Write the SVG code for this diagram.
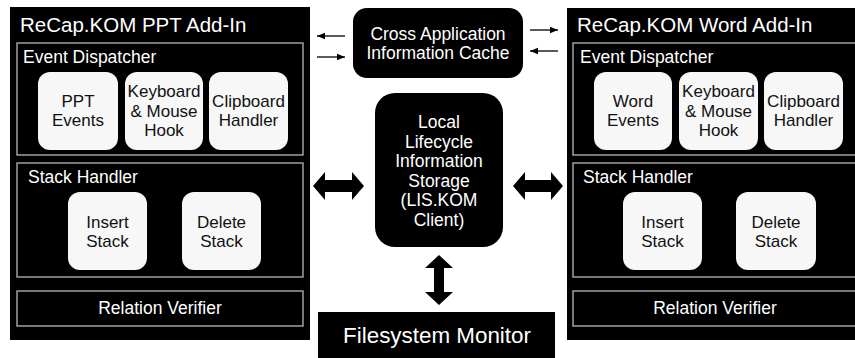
<svg xmlns="http://www.w3.org/2000/svg" width="855" height="358" viewBox="0 0 855 358">
<defs>
<style>
text{font-family:"Liberation Sans",Arial,sans-serif;}
.panel{fill:#000;}
.sub{fill:none;stroke:#b8b8b8;stroke-width:1.3;}
.wbox{fill:#f7f7f7;}
.dark{fill:#000;}
.t{fill:#fff;font-size:20.5px;}
.lbl{fill:#fff;font-size:17.5px;}
.bt{fill:#111;font-size:17px;text-anchor:middle;}
.ct{fill:#fff;font-size:17.5px;text-anchor:middle;}
.thin{stroke:#000;stroke-width:1.3;fill:none;marker-end:url(#ah);}
.thick{fill:#000;}
</style>
<marker id="ah" viewBox="0 0 10 10" refX="10" refY="5" markerWidth="8" markerHeight="8" markerUnits="userSpaceOnUse" orient="auto">
<path d="M0,1 L10,5 L0,9 Z" fill="#000"/>
</marker>
</defs>
<rect width="855" height="358" fill="#fff"/>

<g id="ppt-addin">
<rect class="panel" x="10" y="7" width="300" height="333"/>
<text class="t" x="20" y="32">ReCap.KOM PPT Add-In</text>
<g id="ppt-event-dispatcher">
<rect class="sub" x="17" y="43" width="286" height="112"/>
<text class="lbl" x="23" y="63">Event Dispatcher</text>
<g id="ppt-events"><rect class="wbox" x="38" y="72" width="80" height="78" rx="12"/>
<text class="bt" x="78" y="107">PPT</text><text class="bt" x="78" y="126">Events</text></g>
<g id="ppt-hook"><rect class="wbox" x="125" y="72" width="78" height="78" rx="12"/>
<text class="bt" x="164" y="97">Keyboard</text><text class="bt" x="164" y="117">&amp; Mouse</text><text class="bt" x="164" y="136">Hook</text></g>
<g id="ppt-clipboard"><rect class="wbox" x="209" y="72" width="79" height="78" rx="12"/>
<text class="bt" x="248.5" y="107">Clipboard</text><text class="bt" x="248.5" y="126">Handler</text></g>
</g>
<g id="ppt-stack-handler">
<rect class="sub" x="17" y="163" width="286" height="114"/>
<text class="lbl" x="28" y="183">Stack Handler</text>
<g id="ppt-insert"><rect class="wbox" x="68" y="192" width="79" height="78" rx="12"/>
<text class="bt" x="107.5" y="228">Insert</text><text class="bt" x="107.5" y="247">Stack</text></g>
<g id="ppt-delete"><rect class="wbox" x="182" y="192" width="79" height="78" rx="12"/>
<text class="bt" x="221.5" y="228">Delete</text><text class="bt" x="221.5" y="247">Stack</text></g>
</g>
<g id="ppt-relation-verifier">
<rect class="sub" x="17" y="291" width="286" height="35"/>
<text class="ct" x="160" y="314">Relation Verifier</text>
</g>
</g>

<g id="word-addin">
<rect class="panel" x="567" y="8" width="300" height="332"/>
<text class="t" x="577" y="32">ReCap.KOM Word Add-In</text>
<g id="word-event-dispatcher">
<rect class="sub" x="573" y="43" width="290" height="112"/>
<text class="lbl" x="580" y="63">Event Dispatcher</text>
<g id="word-events"><rect class="wbox" x="594" y="72" width="78" height="78" rx="12"/>
<text class="bt" x="633" y="107">Word</text><text class="bt" x="633" y="126">Events</text></g>
<g id="word-hook"><rect class="wbox" x="679" y="72" width="79" height="78" rx="12"/>
<text class="bt" x="718.5" y="97">Keyboard</text><text class="bt" x="718.5" y="117">&amp; Mouse</text><text class="bt" x="718.5" y="136">Hook</text></g>
<g id="word-clipboard"><rect class="wbox" x="764" y="72" width="79" height="78" rx="12"/>
<text class="bt" x="803.5" y="107">Clipboard</text><text class="bt" x="803.5" y="126">Handler</text></g>
</g>
<g id="word-stack-handler">
<rect class="sub" x="573" y="163" width="290" height="114"/>
<text class="lbl" x="583" y="183">Stack Handler</text>
<g id="word-insert"><rect class="wbox" x="623" y="192" width="79" height="78" rx="12"/>
<text class="bt" x="662.5" y="228">Insert</text><text class="bt" x="662.5" y="247">Stack</text></g>
<g id="word-delete"><rect class="wbox" x="736" y="192" width="80" height="78" rx="12"/>
<text class="bt" x="776" y="228">Delete</text><text class="bt" x="776" y="247">Stack</text></g>
</g>
<g id="word-relation-verifier">
<rect class="sub" x="573" y="291" width="290" height="35"/>
<text class="ct" x="715" y="314">Relation Verifier</text>
</g>
</g>

<g id="cache">
<rect class="dark" x="353" y="8" width="170" height="70" rx="14"/>
<text class="ct" x="438" y="40">Cross Application</text>
<text class="ct" x="438" y="59">Information Cache</text>
</g>

<g id="lis">
<rect class="dark" x="375" y="93" width="128" height="154" rx="20"/>
<text class="ct" x="439" y="128">Local</text>
<text class="ct" x="439" y="147.5">Lifecycle</text>
<text class="ct" x="439" y="167">Information</text>
<text class="ct" x="439" y="186.5">Storage</text>
<text class="ct" x="439" y="206">(LIS.KOM</text>
<text class="ct" x="439" y="226">Client)</text>
</g>

<g id="fsmon">
<rect class="dark" x="318" y="312" width="237" height="50"/>
<text class="ct" x="437" y="343" style="font-size:22.4px">Filesystem Monitor</text>
</g>

<g id="connectors">
<line class="thin" x1="345" y1="36" x2="317" y2="36"/>
<line class="thin" x1="317" y1="57" x2="345" y2="57"/>
<line class="thin" x1="530" y1="30" x2="558" y2="30"/>
<line class="thin" x1="558" y1="51" x2="530" y2="51"/>
<path class="thick" d="M313,186 L325,172 L325,180 L352,180 L352,172 L364,186 L352,200 L352,192 L325,192 L325,200 Z"/>
<path class="thick" d="M513,186 L525,172 L525,180 L551,180 L551,172 L563,186 L551,200 L551,192 L525,192 L525,200 Z"/>
<path class="thick" d="M439,255 L453,268 L444,268 L444,292 L453,292 L439,305 L425,292 L434,292 L434,268 L425,268 Z"/>
</g>
</svg>
